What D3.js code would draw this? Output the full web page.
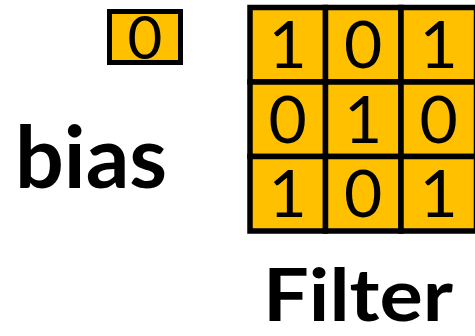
<!DOCTYPE html>
<html><head><meta charset="utf-8">
<script src="https://cdn.jsdelivr.net/npm/d3@7"></script>
<style>html,body{margin:0;padding:0;background:#fff;}svg{display:block;}</style>
</head><body>
<script>
const filterRows = [
  [1, 0, 1],
  [0, 1, 0],
  [1, 0, 1]
];
const biasValue = [0];
const labels = ["bias", "Filter"];

const W = 475, H = 336;
const svg = d3.select("body").append("svg").attr("width", W).attr("height", H);
const fill = "#FFC000";
const font = "Lato, Carlito, Calibri, sans-serif";

const x = d3.scaleBand().domain([0,1,2]).range([250, 476.5]);
const y = d3.scaleBand().domain([0,1,2]).range([7.5, 231]);

const cells = [];
filterRows.forEach((row, r) => row.forEach((v, c) => cells.push({r, c, v})));

const g = svg.append("g");
g.selectAll("rect.cell").data(cells).join("rect")
  .attr("class","cell")
  .attr("x", d => x(d.c)).attr("y", d => y(d.r))
  .attr("width", x.bandwidth()).attr("height", y.bandwidth())
  .attr("fill", fill).attr("stroke", "#000").attr("stroke-width", 5.5);
g.selectAll("text.cell").data(cells).join("text")
  .attr("class","cell")
  .attr("x", d => x(d.c) + x.bandwidth()/2)
  .attr("y", d => y(d.r) + y.bandwidth()/2 + 23.5)
  .attr("text-anchor","middle")
  .attr("font-family", font).attr("font-size", 66)
  .attr("fill","#000")
  .text(d => d.v);

// bias box
const bx = d3.scaleBand().domain([0]).range([109.5, 180.5]);
svg.selectAll("rect.bias").data(biasValue).join("rect")
  .attr("class","bias")
  .attr("x", (d,i) => bx(i)).attr("y", 11.5)
  .attr("width", bx.bandwidth()).attr("height", 51)
  .attr("fill", fill).attr("stroke","#000").attr("stroke-width", 5);
svg.selectAll("text.bias").data(biasValue).join("text")
  .attr("class","bias")
  .attr("x", (d,i) => bx(i) + bx.bandwidth()/2)
  .attr("y", 59)
  .attr("text-anchor","middle")
  .attr("font-family", font).attr("font-size", 60)
  .attr("fill","#000")
  .text(d => d);

svg.append("text").attr("x", 15).attr("y", 188)
  .attr("font-family", font).attr("font-weight", "bold").attr("font-size", 86)
  .attr("fill","#000").text(labels[0]);
svg.append("text").attr("x", 263).attr("y", 321)
  .attr("font-family", font).attr("font-weight", "bold").attr("font-size", 72)
  .attr("textLength", 190).attr("lengthAdjust", "spacingAndGlyphs")
  .attr("fill","#000").text(labels[1]);
</script>
</body></html>
